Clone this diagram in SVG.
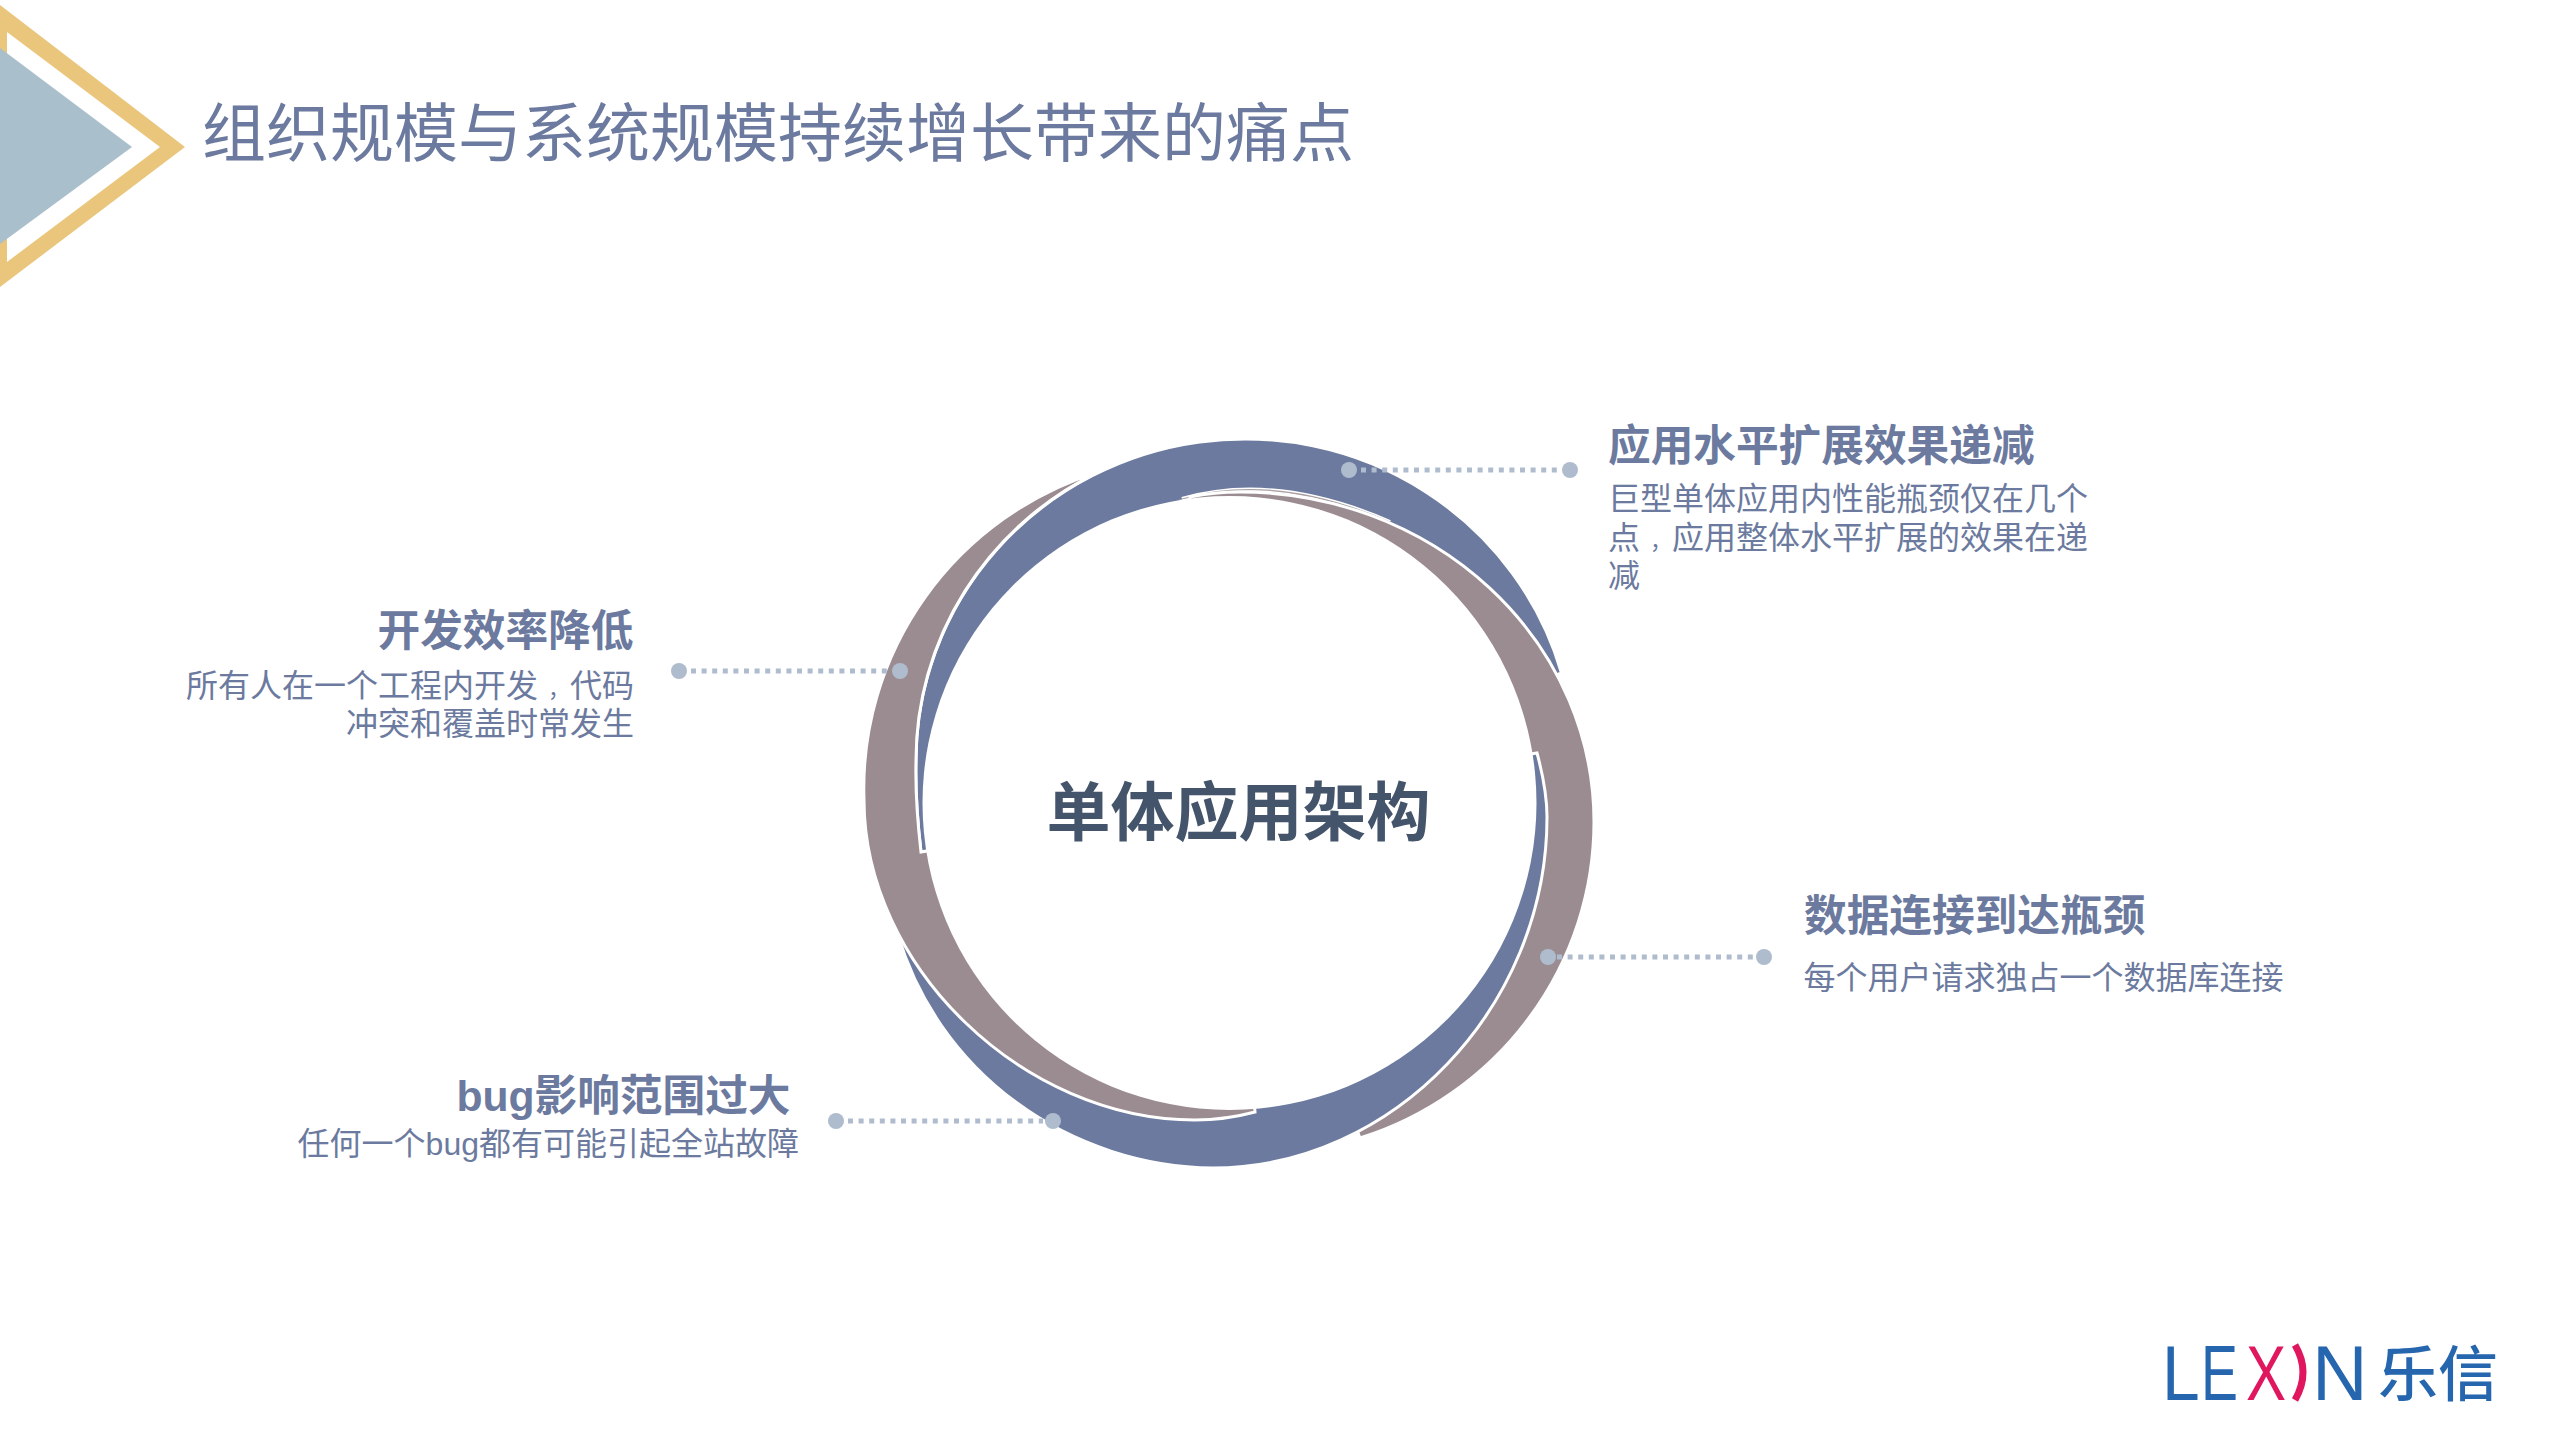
<svg xmlns="http://www.w3.org/2000/svg" width="2559" height="1439" viewBox="0 0 2559 1439">
<style>
text{font-family:"Liberation Sans","Noto Sans CJK SC",sans-serif}
.title{font-size:64px;fill:#6b7a9e;font-weight:400;font-family:"Noto Sans CJK SC",sans-serif}
.h{font-size:42.67px;font-weight:700;fill:#6b7a9e}
.b{font-size:32px;fill:#6b7a9e;font-weight:400}
.cm{font-size:22px}
.e{text-anchor:end}
.blue{fill:#6b7a9e;stroke:#fff;stroke-width:3}
.brown{fill:#9b8c92;stroke:#fff;stroke-width:3}
.dot{fill:#aebccd}
.dl{stroke:#aebccd;stroke-width:5;stroke-dasharray:5 5.6;fill:none}
.logo{font-size:77px;fill:#2566ae}
</style>
<rect width="2559" height="1439" fill="#fff"/>
<g id="chevron">
<path d="M0,5 L185,147 L0,287 Z M7,32 V262 L160,147 Z" fill="#eac67c" fill-rule="evenodd"/>
<path d="M0,48 L132,147 L0,244 Z" fill="#aabfcc"/>
</g>
<text id="title" class="title" x="202" y="156">组织规模与系统规模持续增长带来的痛点</text>
<g id="ring">
<path class="blue" d="M921,852 Q915,800 916,761 A329,322 0 0 1 1561.5,673 L1229,803 Z"/>
<path d="M1182,499 Q1275,472 1390,522" fill="none" stroke="#fff" stroke-width="4"/>
<path d="M1182,499 Q1275,472 1390,522" fill="none" stroke="#aaa1a6" stroke-width="1.2"/>
<path class="brown" d="M1190,497 Q1214,492 1240,492 A354,330 0 0 1 1594,822 A336,332 0 0 1 1360,1138 L1229,803 Z"/>
<path class="blue" d="M1537,753 Q1547,790 1547,817 C1547,1007 1393,1168 1213,1168 A332,322 0 0 1 898,935 L1229,803 Z"/>
<path class="brown" d="M1255,1112 Q1225,1120 1195,1120 C1023,1120 864,966 864,800 A336,332 0 0 1 1098,472 A329,322 0 0 0 916,761 Q915,800 921,852 L1229,803 Z"/>
<circle cx="1229.5" cy="803" r="307" fill="#fff"/>
</g>
<text id="center" x="1238.5" y="835" text-anchor="middle" font-size="64" font-weight="700" fill="#44546a">单体应用架构</text>
<g id="connectors">
<path class="dl" d="M1361,470 H1560"/><circle class="dot" cx="1349" cy="470" r="8"/><circle class="dot" cx="1570" cy="470" r="8"/>
<path class="dl" d="M691,671 H890"/><circle class="dot" cx="679" cy="671" r="8"/><circle class="dot" cx="900" cy="671" r="8"/>
<path class="dl" d="M1557,957 H1755"/><circle class="dot" cx="1548" cy="957" r="8"/><circle class="dot" cx="1764" cy="957" r="8"/>
<path class="dl" d="M848,1121 H1043"/><circle class="dot" cx="836" cy="1121" r="8"/><circle class="dot" cx="1053" cy="1121" r="8"/>
</g>
<g id="node-scaling">
<text class="h" x="1608" y="461">应用水平扩展效果递减</text>
<text class="b" x="1608" y="510">巨型单体应用内性能瓶颈仅在几个</text>
<text class="b" x="1608" y="548.5">点<tspan class="cm" dx="10">，</tspan>应用整体水平扩展的效果在递</text>
<text class="b" x="1608" y="587">减</text>
</g>
<g id="node-efficiency">
<text class="h e" x="633.5" y="646">开发效率降低</text>
<text class="b e" x="634" y="697">所有人在一个工程内开发<tspan class="cm" dx="10">，</tspan>代码</text>
<text class="b e" x="634" y="735">冲突和覆盖时常发生</text>
</g>
<g id="node-database">
<text class="h" x="1804" y="931">数据连接到达瓶颈</text>
<text class="b" x="1803.5" y="989">每个用户请求独占一个数据库连接</text>
</g>
<g id="node-bug">
<text class="h e" x="790.5" y="1111">bug影响范围过大</text>
<text class="b e" x="799" y="1155">任何一个bug都有可能引起全站故障</text>
</g>
<g id="logo">
<text class="logo" transform="translate(2162,1400) scale(.88,1)">L</text>
<text class="logo" transform="translate(2201,1400) scale(.72,1)">E</text>
<text class="logo" transform="translate(2246,1400) scale(.78,1)" style="fill:#e0165f">X</text>
<path d="M2295,1345 Q2311,1372 2295,1400" fill="none" stroke="#e0165f" stroke-width="7"/>
<text class="logo" x="2312" y="1400">N</text>
<text x="2378" y="1396" font-size="60" fill="#2566ae" font-weight="500" style="font-family:'Noto Sans CJK SC',sans-serif">乐信</text>
</g>
</svg>
